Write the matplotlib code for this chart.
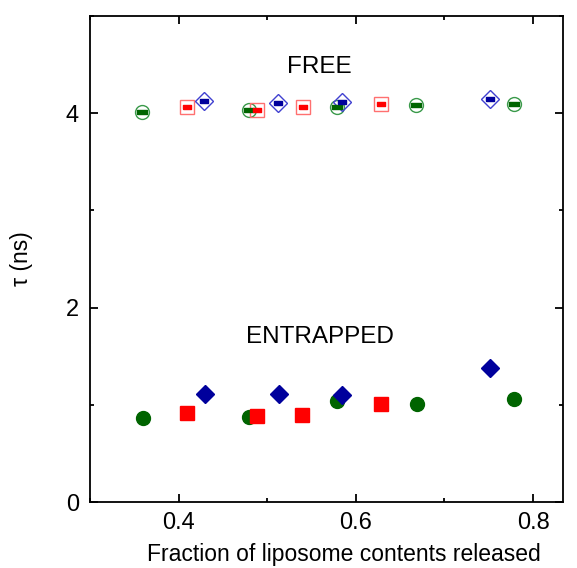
import matplotlib
matplotlib.use("Agg")
import matplotlib.pyplot as plt
from matplotlib.ticker import MultipleLocator

plt.rcParams['font.family'] = ['Liberation Sans', 'DejaVu Sans']

# free (open symbols) - tau in ns vs fraction released
free_circ_x = [0.359, 0.479, 0.579, 0.668, 0.778]
free_circ_y = [4.01, 4.03, 4.06, 4.085, 4.095]
free_sq_x = [0.410, 0.489, 0.540, 0.628]
free_sq_y = [4.065, 4.035, 4.068, 4.09]
free_dia_x = [0.429, 0.512, 0.584, 0.752]
free_dia_y = [4.12, 4.105, 4.115, 4.147]

# entrapped (filled symbols)
ent_circ_x = [0.360, 0.480, 0.579, 0.669, 0.778]
ent_circ_y = [0.86, 0.872, 1.036, 1.005, 1.063]
ent_sq_x = [0.410, 0.489, 0.539, 0.628]
ent_sq_y = [0.913, 0.882, 0.899, 1.005]
ent_dia_x = [0.430, 0.513, 0.584, 0.752]
ent_dia_y = [1.111, 1.114, 1.097, 1.381]

green = '#006400'
red = '#ff0000'
blue = '#00009c'
rect = [(-1, -0.55), (1, -0.55), (1, 0.55), (-1, 0.55), (-1, -0.55)]

fig = plt.figure(figsize=(5.77, 5.68), dpi=100)
ax = fig.add_axes([0.156, 0.116, 0.82, 0.856])

# open markers for the free probe
ax.plot(free_circ_x, free_circ_y, 'o', ms=10, mfc='none', mec='#3a9a4a', mew=1.0)
ax.plot(free_sq_x, free_sq_y, 's', ms=10, mfc='none', mec='#ff7070', mew=1.0)
ax.plot(free_dia_x, free_dia_y, 'D', ms=9.5, mfc='none', mec='#4040d0', mew=1.0)
ax.plot(free_circ_x, free_circ_y, marker=rect, ls='none', ms=6.5, color=green)
ax.plot(free_sq_x, free_sq_y, marker=rect, ls='none', ms=6, color=red)
ax.plot(free_dia_x, free_dia_y, marker=rect, ls='none', ms=6, color=blue)

# filled markers for the entrapped probe
ax.plot(ent_circ_x, ent_circ_y, 'o', ms=10, color=green)
ax.plot(ent_sq_x, ent_sq_y, 's', ms=10, color=red)
ax.plot(ent_dia_x, ent_dia_y, 'D', ms=9.5, color=blue)

ax.text(0.559, 4.47, 'FREE', fontsize=17.5, ha='center', va='center')
ax.text(0.559, 1.70, 'ENTRAPPED', fontsize=17.5, ha='center', va='center')

ax.set_xlim(0.3, 0.834)
ax.set_ylim(0, 5)
ax.xaxis.set_major_locator(MultipleLocator(0.2))
ax.xaxis.set_minor_locator(MultipleLocator(0.1))
ax.yaxis.set_major_locator(MultipleLocator(2))
ax.yaxis.set_minor_locator(MultipleLocator(1))
ax.tick_params(which='both', direction='in', top=True, right=True, width=1.3, labelsize=17)
ax.tick_params(axis='x', which='major', length=6, pad=7)
ax.tick_params(axis='y', which='major', length=6, pad=8)
ax.tick_params(which='minor', length=3)
for s in ax.spines.values():
    s.set_linewidth(1.3)

ax.set_xlabel('Fraction of liposome contents released', fontsize=16.5)
ax.set_ylabel('τ (ns)', fontsize=16.5)
ax.yaxis.set_label_coords(-0.12, 0.5)
ax.xaxis.set_label_coords(0.537, -0.084)

fig.savefig('out.png', dpi=100)
